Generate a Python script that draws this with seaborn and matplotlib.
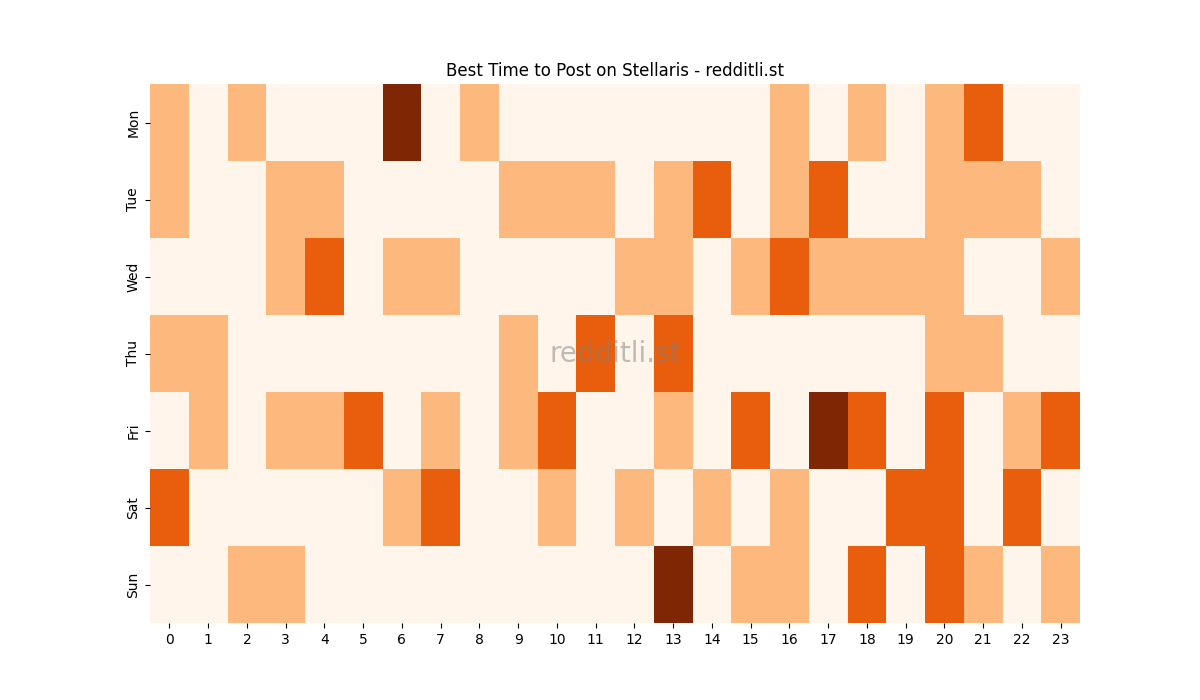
import numpy as np
import pandas as pd
import matplotlib
matplotlib.use("Agg")
import matplotlib.pyplot as plt
import seaborn as sns

days = ["Mon", "Tue", "Wed", "Thu", "Fri", "Sat", "Sun"]
hours = list(range(24))

# activity level per hour (0 = none ... 3 = best)
mon = [1, 0, 1, 0, 0, 0, 3, 0, 1, 0, 0, 0, 0, 0, 0, 0, 1, 0, 1, 0, 1, 2, 0, 0]
tue = [1, 0, 0, 1, 1, 0, 0, 0, 0, 1, 1, 1, 0, 1, 2, 0, 1, 2, 0, 0, 1, 1, 1, 0]
wed = [0, 0, 0, 1, 2, 0, 1, 1, 0, 0, 0, 0, 1, 1, 0, 1, 2, 1, 1, 1, 1, 0, 0, 1]
thu = [1, 1, 0, 0, 0, 0, 0, 0, 0, 1, 0, 2, 0, 2, 0, 0, 0, 0, 0, 0, 1, 1, 0, 0]
fri = [0, 1, 0, 1, 1, 2, 0, 1, 0, 1, 2, 0, 0, 1, 0, 2, 0, 3, 2, 0, 2, 0, 1, 2]
sat = [2, 0, 0, 0, 0, 0, 1, 2, 0, 0, 1, 0, 1, 0, 1, 0, 1, 0, 0, 2, 2, 0, 2, 0]
sun = [0, 0, 1, 1, 0, 0, 0, 0, 0, 0, 0, 0, 0, 3, 0, 1, 1, 0, 2, 0, 2, 1, 0, 1]

df = pd.DataFrame([mon, tue, wed, thu, fri, sat, sun], index=days, columns=hours)

fig = plt.figure(figsize=(12, 7), dpi=100)
ax = sns.heatmap(df, cmap="Oranges", cbar=False)
ax.set_title("Best Time to Post on Stellaris - redditli.st")
ax.text(0.5, 0.5, "redditli.st", transform=ax.transAxes, fontsize=20,
        color="gray", alpha=0.5, ha="center", va="center")

plt.savefig("out.png")
